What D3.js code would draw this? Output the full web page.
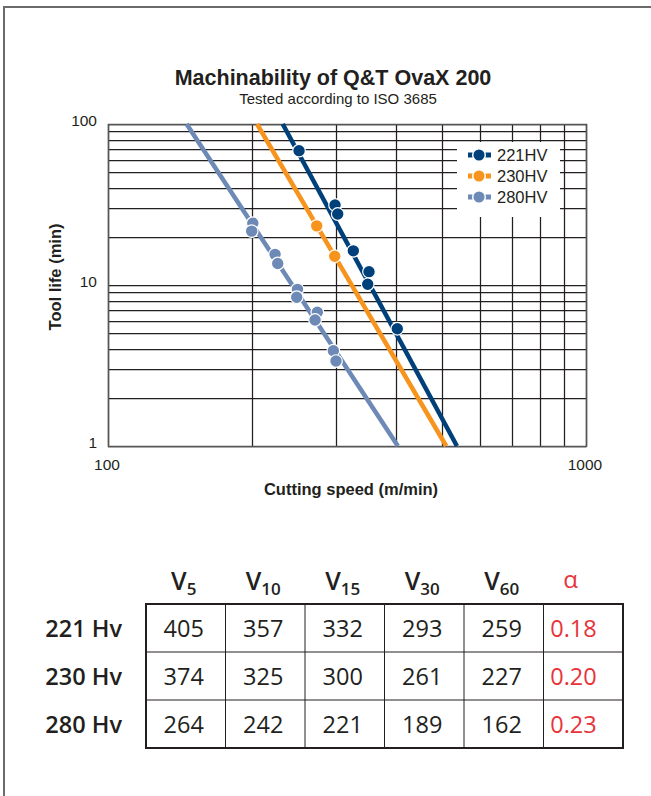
<!DOCTYPE html>
<html>
<head>
<meta charset="utf-8">
<script src="https://cdn.jsdelivr.net/npm/d3@7"></script>
<style>
body{margin:0;background:#fff;}
svg{display:block;}
</style>
</head>
<body>
<svg id="chart"></svg>
<script>
var W = 651, H = 796;

// chart data
var seriesNames = ["221HV", "230HV", "280HV"];
var seriesColors = ["#00407a", "#f7941d", "#6d89b6"];
// fitted lines: [speed, tool life] end points
var fit221 = [[232, 100], [537, 1]];
var fit230 = [[205, 100], [510, 1]];
var fit280 = [[146, 100], [404, 1]];
// measured points: [speed, tool life]
var pts221 = [[251, 68.3], [298.5, 31.4], [302.4, 27.6], [326, 16.3], [351.6, 12.1], [349.4, 10.1], [402.9, 5.35]];
var pts230 = [[273.3, 23.3], [298.1, 15.1]];
var pts280 = [[200.9, 24.2], [199.8, 21.6], [223.6, 15.5], [226.5, 13.6], [249.1, 9.4], [248.2, 8.4],
              [274.1, 6.77], [271.1, 6.06], [296.1, 3.91], [299.9, 3.37]];
var speedLabels = [100, 1000];
var lifeLabels = [1, 10, 100];

// table data
var colSubs = ["5", "10", "15", "30", "60"];
var rowLabels = ["221 Hv", "230 Hv", "280 Hv"];
var tableValues = [[405, 357, 332, 293, 259],
                   [374, 325, 300, 261, 227],
                   [264, 242, 221, 189, 162]];
var alphaValues = ["0.18", "0.20", "0.23"];

var svg = d3.select("#chart").attr("width", W).attr("height", H);

// page frame (top and left edges only visible)
svg.append("path").attr("d", "M4,800 L4,7 L660,7")
	.attr("fill", "none").attr("stroke", "#6b6b6b").attr("stroke-width", 2);

var pl = 108, pt = 124, pr = 586, pb = 446;
var x = d3.scaleLog().domain([100, 1000]).range([pl, pr]);
var y = d3.scaleLog().domain([1, 100]).range([pb, pt]);

var font = "'Liberation Sans', Arial, sans-serif";

// title
svg.append("text").attr("x", 333).attr("y", 85).attr("text-anchor", "middle")
	.attr("font-family", font).attr("font-weight", "bold").attr("font-size", 21.5)
	.attr("fill", "#231f20").text("Machinability of Q&T OvaX 200");
svg.append("text").attr("x", 338).attr("y", 104).attr("text-anchor", "middle")
	.attr("font-family", font).attr("font-size", 15)
	.attr("fill", "#231f20").text("Tested according to ISO 3685");

// grid
var grid = svg.append("g").attr("stroke", "#231f20").attr("stroke-width", 1.25);
grid.selectAll("line.v").data(x.ticks()).enter().append("line")
	.attr("x1", function(d){ return Math.round(x(d)) + 0.5; })
	.attr("x2", function(d){ return Math.round(x(d)) + 0.5; })
	.attr("y1", pt).attr("y2", pb);
grid.selectAll("line.h").data(y.ticks()).enter().append("line")
	.attr("y1", function(d){ return Math.round(y(d)) + 0.5; })
	.attr("y2", function(d){ return Math.round(y(d)) + 0.5; })
	.attr("x1", pl).attr("x2", pr);
svg.append("rect").attr("x", pl + 0.5).attr("y", pt + 0.5)
	.attr("width", pr - pl).attr("height", pb - pt)
	.attr("fill", "none").attr("stroke", "#555").attr("stroke-width", 1.5);

// tick labels
svg.selectAll("text.xl").data(speedLabels).enter().append("text")
	.attr("x", function(d){ return x(d) - 1; }).attr("y", 470)
	.attr("text-anchor", "middle").attr("font-family", font).attr("font-size", 15.5)
	.attr("fill", "#231f20").text(function(d){ return d; });
svg.selectAll("text.yl").data(lifeLabels).enter().append("text")
	.attr("x", 97).attr("y", function(d){ return y(d) + 2; })
	.attr("text-anchor", "end").attr("font-family", font).attr("font-size", 15.5)
	.attr("fill", "#231f20").text(function(d){ return d; });

// axis titles
svg.append("text").attr("x", 351).attr("y", 495).attr("text-anchor", "middle")
	.attr("font-family", font).attr("font-weight", "bold").attr("font-size", 16.5)
	.attr("fill", "#231f20").text("Cutting speed (m/min)");
svg.append("text").attr("transform", "translate(61,277) rotate(-90)").attr("text-anchor", "middle")
	.attr("font-family", font).attr("font-weight", "bold").attr("font-size", 16.5)
	.attr("fill", "#231f20").text("Tool life (min)");

// legend box
svg.append("rect").attr("x", 457).attr("y", 142).attr("width", 103).attr("height", 75).attr("fill", "#fff");

var fits = [fit221, fit230, fit280];
var pts = [pts221, pts230, pts280];
var line = d3.line().x(function(d){ return x(d[0]); }).y(function(d){ return y(d[1]); });

for (var i = fits.length - 1; i >= 0; i--) {
	svg.append("path").datum(fits[i]).attr("d", line)
		.attr("fill", "none").attr("stroke", seriesColors[i]).attr("stroke-width", 4.5);
	svg.selectAll("circle.s" + i).data(pts[i]).enter().append("circle")
		.attr("cx", function(d){ return x(d[0]); })
		.attr("cy", function(d){ return y(d[1]); })
		.attr("r", 6.3).attr("fill", seriesColors[i])
		.attr("stroke", "#fff").attr("stroke-width", 1.2);
}

// legend items
var leg = svg.selectAll("g.leg").data(seriesNames).enter().append("g")
	.attr("transform", function(d, i){ return "translate(479," + (155 + i * 21) + ")"; });
leg.append("line").attr("x1", -11).attr("x2", 12).attr("y1", 0).attr("y2", 0)
	.attr("stroke", function(d, i){ return seriesColors[i]; }).attr("stroke-width", 5);
leg.append("circle").attr("r", 6.3).attr("fill", function(d, i){ return seriesColors[i]; })
	.attr("stroke", "#fff").attr("stroke-width", 1.5);
leg.append("text").attr("x", 18).attr("y", 6).attr("font-family", font).attr("font-size", 16.5)
	.attr("fill", "#231f20").text(function(d){ return d; });

// table
var tfont = "'Open Sans', 'Noto Sans', sans-serif";
var tx = d3.scaleBand().domain(d3.range(6)).range([146, 623]);
var ty = d3.scaleBand().domain(d3.range(3)).range([604, 748]);
var tab = svg.append("g");

tab.selectAll("line.cv").data(d3.range(1, 6)).enter().append("line")
	.attr("x1", function(d){ return tx(d); }).attr("x2", function(d){ return tx(d); })
	.attr("y1", 604).attr("y2", 748).attr("stroke", "#231f20").attr("stroke-width", 1);
tab.selectAll("line.rh").data(d3.range(1, 3)).enter().append("line")
	.attr("y1", function(d){ return ty(d); }).attr("y2", function(d){ return ty(d); })
	.attr("x1", 146).attr("x2", 623).attr("stroke", "#231f20").attr("stroke-width", 1);
tab.append("rect").attr("x", 146).attr("y", 604).attr("width", 477).attr("height", 144)
	.attr("fill", "none").attr("stroke", "#231f20").attr("stroke-width", 2);

// header
var head = tab.selectAll("text.h").data(colSubs).enter().append("text")
	.attr("x", function(d, i){ return tx(i) + tx.bandwidth() / 2 - 2; }).attr("y", 590)
	.attr("text-anchor", "middle").attr("font-family", tfont).attr("font-weight", 600)
	.attr("fill", "#231f20");
head.append("tspan").attr("font-size", 25).text("V");
head.append("tspan").attr("font-size", 17).attr("dy", 5).text(function(d){ return d; });
tab.append("text").attr("x", tx(5) + 27).attr("y", 588).attr("text-anchor", "middle")
	.attr("font-family", tfont).attr("font-size", 24).attr("fill", "#e8333b").text("α");

// rows
tab.selectAll("text.r").data(rowLabels).enter().append("text")
	.attr("x", 122).attr("y", function(d, i){ return ty(i) + ty.bandwidth() / 2 + 8.5; })
	.attr("text-anchor", "end").attr("font-family", tfont).attr("font-weight", 600)
	.attr("font-size", 23.5).attr("fill", "#231f20").text(function(d){ return d; });

tableValues.forEach(function(row, r){
	tab.selectAll("text.v" + r).data(row).enter().append("text")
		.attr("x", function(d, c){ return tx(c) + tx.bandwidth() / 2 - 2; })
		.attr("y", ty(r) + ty.bandwidth() / 2 + 8.5)
		.attr("text-anchor", "middle").attr("font-family", tfont).attr("font-size", 23.5)
		.attr("fill", "#231f20").text(function(d){ return d; });
});
tab.selectAll("text.a").data(alphaValues).enter().append("text")
	.attr("x", tx(5) + 30).attr("y", function(d, i){ return ty(i) + ty.bandwidth() / 2 + 8.5; })
	.attr("text-anchor", "middle").attr("font-family", tfont).attr("font-size", 23.5)
	.attr("fill", "#e8333b").text(function(d){ return d; });
</script>
</body>
</html>
